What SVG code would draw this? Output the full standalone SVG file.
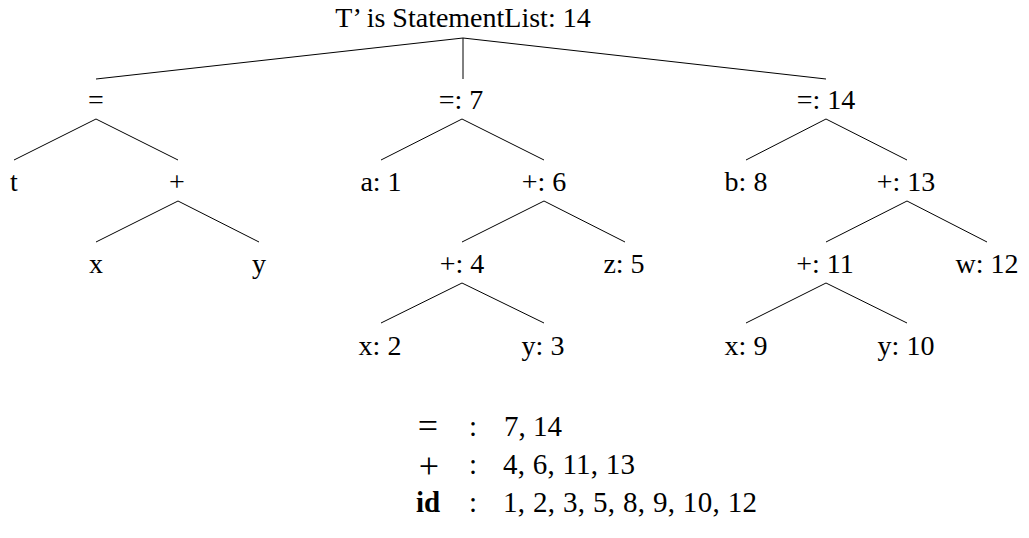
<svg xmlns="http://www.w3.org/2000/svg" width="1029" height="538" viewBox="0 0 1029 538">
<style>
.t{font-family:"Liberation Serif","Times New Roman",serif;font-size:28px;fill:#000;text-anchor:middle}
.m{font-family:"Liberation Serif","Times New Roman",serif;font-size:29px;fill:#000}
.op{font-family:"Liberation Serif","Times New Roman",serif;font-size:36px;fill:#000;text-anchor:middle}
.b{font-family:"Liberation Serif","Times New Roman",serif;font-size:29px;font-weight:bold;fill:#000;text-anchor:middle}
.e{stroke:#000;stroke-width:1;fill:none}
</style>
<rect width="1029" height="538" fill="#fff"/>
<g id="connectors">
<path class="e" d="M463,38 L96,79 M463,38 L463,79 M463,38 L826,79"/>
<path class="e" d="M96,119 L14,160 M96,119 L178,160"/>
<path class="e" d="M462,119 L381,160 M462,119 L544,160"/>
<path class="e" d="M826,119 L746,160 M826,119 L907,160"/>
<path class="e" d="M178,201 L96,242 M178,201 L259,242"/>
<path class="e" d="M544,201 L462,242 M544,201 L625,242"/>
<path class="e" d="M907,201 L826,242 M907,201 L987,242"/>
<path class="e" d="M462,283 L381,323 M462,283 L544,323"/>
<path class="e" d="M826,283 L746,323 M826,283 L907,323"/>
</g>
<g id="root"><text class="t" x="463" y="27">T’ is StatementList: 14</text></g>
<g id="n_eq1"><text class="t" x="96" y="109">=</text></g>
<g id="n_eq7"><text class="t" x="461" y="109">=: 7</text></g>
<g id="n_eq14"><text class="t" x="826" y="109">=: 14</text></g>
<g id="n_t"><text class="t" x="14" y="191">t</text></g>
<g id="n_plus1"><text class="t" x="177" y="191">+</text></g>
<g id="n_a1"><text class="t" x="381" y="191">a: 1</text></g>
<g id="n_plus6"><text class="t" x="544" y="191">+: 6</text></g>
<g id="n_b8"><text class="t" x="746" y="191">b: 8</text></g>
<g id="n_plus13"><text class="t" x="906" y="191">+: 13</text></g>
<g id="n_x"><text class="t" x="96" y="273">x</text></g>
<g id="n_y"><text class="t" x="259" y="273">y</text></g>
<g id="n_plus4"><text class="t" x="462" y="273">+: 4</text></g>
<g id="n_z5"><text class="t" x="624" y="273">z: 5</text></g>
<g id="n_plus11"><text class="t" x="825" y="273">+: 11</text></g>
<g id="n_w12"><text class="t" x="987" y="273">w: 12</text></g>
<g id="n_x2"><text class="t" x="380" y="355">x: 2</text></g>
<g id="n_y3"><text class="t" x="543" y="355">y: 3</text></g>
<g id="n_x9"><text class="t" x="746" y="355">x: 9</text></g>
<g id="n_y10"><text class="t" x="906" y="355">y: 10</text></g>
<g id="table">
<text class="op" x="428" y="438">=</text>
<text class="m" x="473" y="436" text-anchor="middle">:</text>
<text class="m" x="504" y="436" textLength="58" lengthAdjust="spacing">7, 14</text>
<text class="op" x="429" y="478">+</text>
<text class="m" x="473" y="474" text-anchor="middle">:</text>
<text class="m" x="503" y="474" textLength="132" lengthAdjust="spacing">4, 6, 11, 13</text>
<text class="b" x="428" y="512">id</text>
<text class="m" x="473" y="512" text-anchor="middle">:</text>
<text class="m" x="503" y="512" textLength="254" lengthAdjust="spacing">1, 2, 3, 5, 8, 9, 10, 12</text>
</g>
</svg>
